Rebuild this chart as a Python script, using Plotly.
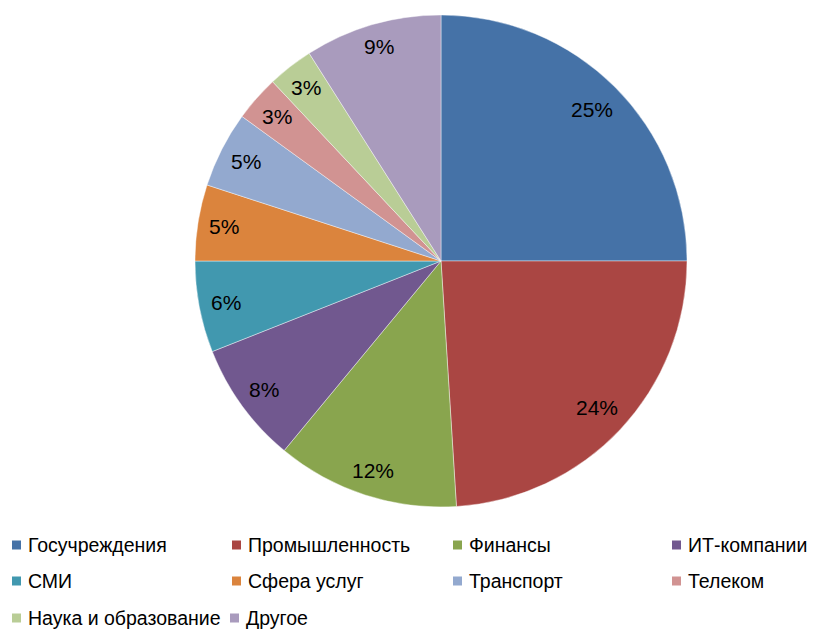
import math
import plotly.graph_objects as go

categories = ["Госучреждения", "Промышленность", "Финансы", "ИТ-компании", "СМИ",
              "Сфера услуг", "Транспорт", "Телеком", "Наука и образование", "Другое"]
values = [25, 24, 12, 8, 6, 5, 5, 3, 3, 9]
colors = ["#4572A7", "#AA4643", "#89A54E", "#71588F", "#4198AF",
          "#DB843D", "#93A9CF", "#D19392", "#B9CD96", "#A99BBD"]

W, H = 814, 631
cx, cy, R = 441, 261, 246  # pie centre / radius in pixels
FONT = "Liberation Sans, Arial, sans-serif"
FS_LABEL = 21
FS_LEGEND = 19.5


def px2paper(x, y):
    return x / W, 1 - y / H


fig = go.Figure(go.Pie(
    labels=categories, values=values, sort=False, direction="clockwise",
    rotation=0, marker=dict(colors=colors, line=dict(color="rgba(255,255,255,0.7)", width=0.6)),
    textinfo="none", hoverinfo="label+percent", showlegend=False,
    domain=dict(x=[(cx - R) / W, (cx + R) / W], y=[1 - (cy + R) / H, 1 - (cy - R) / H]),
))

annotations = []
shapes = []
total = sum(values)
cum = 0
for v in values:
    mid = (cum + v / 2) / total * 2 * math.pi
    cum += v
    txt = f"{round(v / total * 100)}%"
    # "inside end" placement: keep the label box a fixed distance inside the rim
    hw, hh = 7 * len(txt), 8
    extent = hw * abs(math.sin(mid)) + hh * abs(math.cos(mid))
    r = 0.953 * R - extent
    ax, ay = px2paper(cx + r * math.sin(mid), cy - r * math.cos(mid))
    annotations.append(dict(x=ax, y=ay, xref="paper", yref="paper",
                            text=txt, showarrow=False,
                            font=dict(family=FONT, size=FS_LABEL, color="#000000"),
                            xanchor="center", yanchor="middle"))

# legend (4 columns x 3 rows)
col_x = [12, 232, 453, 672]
row_y = [545, 581, 618]
sw = 9
for i, (name, c) in enumerate(zip(categories, colors)):
    row, col = divmod(i, 4)
    x0 = col_x[col] if not (row == 2 and col == 1) else 230
    yc = row_y[row]
    fx0, fy0 = px2paper(x0, yc + sw / 2)
    fx1, fy1 = px2paper(x0 + sw, yc - sw / 2)
    shapes.append(dict(type="rect", xref="paper", yref="paper",
                       x0=fx0, x1=fx1, y0=fy0, y1=fy1,
                       fillcolor=c, line=dict(width=0)))
    tx, ty = px2paper(x0 + sw + 5, yc)
    annotations.append(dict(x=tx, y=ty, xref="paper", yref="paper",
                            text=name, showarrow=False, xanchor="left", yanchor="middle",
                            font=dict(family=FONT, size=FS_LEGEND, color="#000000")))

fig.update_layout(width=W, height=H, margin=dict(l=0, r=0, t=0, b=0),
                  paper_bgcolor="white", plot_bgcolor="white",
                  font=dict(family=FONT),
                  annotations=annotations, shapes=shapes)
fig.write_html("out.html", config={"displayModeBar": False},
               post_script="document.body.style.margin='0';document.body.style.overflow='hidden';")
